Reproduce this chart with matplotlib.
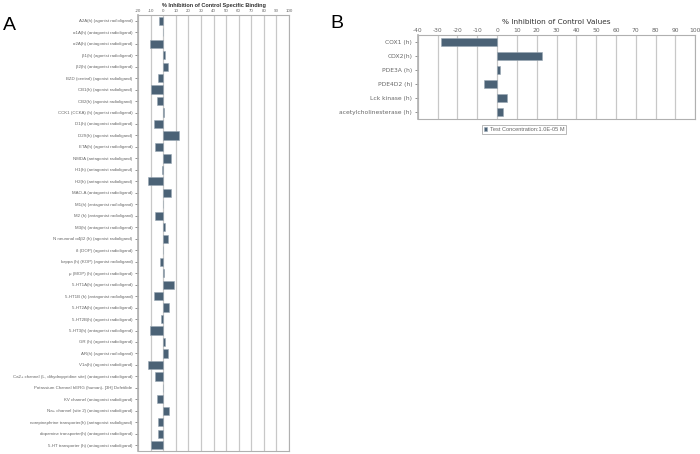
import matplotlib.pyplot as plt
import numpy as np

plt.rcParams['font.family'] = ['Liberation Sans', 'DejaVu Sans']
plt.rcParams['axes.unicode_minus'] = False

# panel A data
binding_labels = [
    'A2A(h) (agonist radioligand)',
    'α1A(h) (antagonist radioligand)',
    'α2A(h) (antagonist radioligand)',
    'β1(h) (agonist radioligand)',
    'β2(h) (antagonist radioligand)',
    'BZD (central) (agonist radioligand)',
    'CB1(h) (agonist radioligand)',
    'CB2(h) (agonist radioligand)',
    'CCK1 (CCKA) (h) (agonist radioligand)',
    'D1(h) (antagonist radioligand)',
    'D2S(h) (agonist radioligand)',
    'ETA(h) (agonist radioligand)',
    'NMDA (antagonist radioligand)',
    'H1(h) (antagonist radioligand)',
    'H2(h) (antagonist radioligand)',
    'MAO-A (antagonist radioligand)',
    'M1(h) (antagonist radioligand)',
    'M2 (h) (antagonist radioligand)',
    'M3(h) (antagonist radioligand)',
    'N neuronal α4β2 (h) (agonist radioligand)',
    'δ (DOP) (agonist radioligand)',
    'kappa (h) (KOP) (agonist radioligand)',
    'μ (MOP) (h) (agonist radioligand)',
    '5-HT1A(h) (agonist radioligand)',
    '5-HT1B (h) (antagonist radioligand)',
    '5-HT2A(h) (agonist radioligand)',
    '5-HT2B(h) (agonist radioligand)',
    '5-HT3(h) (antagonist radioligand)',
    'GR (h) (agonist radioligand)',
    'AR(h) (agonist radioligand)',
    'V1a(h) (agonist radioligand)',
    'Ca2+ channel (L, dihydropyridine site) (antagonist radioligand)',
    'Potassium Channel hERG (human)- [3H] Dofetilide',
    'KV channel (antagonist radioligand)',
    'Na+ channel (site 2) (antagonist radioligand)',
    'norepinephrine transporter(h) (antagonist radioligand)',
    'dopamine transporter(h) (antagonist radioligand)',
    '5-HT transporter (h) (antagonist radioligand)',
]
binding_values = [-3.0, 0, -10.2, 1.6, 4.0, -3.8, -9.4, -4.6, 0.5, -7.0,
                  12.6, -6.5, 6.5, -1.0, -12.0, 6.2, 0, -6.7, 1.1, 4.0,
                  0, -2.4, 0.5, 8.3, -7.3, 4.6, -1.6, -10.5, 1.3, 3.5,
                  -12.4, -6.2, 0, -5.1, 4.3, -4.0, -4.0, -9.4]

# panel B data
enzyme_labels = ['COX1 (h)', 'COX2(h)', 'PDE3A (h)', 'PDE4D2 (h)',
                 'Lck kinase (h)', 'acetylcholinesterase (h)']
enzyme_values = [-28.2, 22.5, 1.7, -6.4, 4.9, 3.2]

bar_color = '#4b6276'
txt = '#666666'
grid_c = '#c8c8c8'

fig = plt.figure(figsize=(7, 4.54), dpi=100)
W, H = 700, 454

def style(ax, xmin, xmax, fs):
    ax.set_xlim(xmin, xmax)
    ax.set_xticks(np.arange(xmin, xmax + 1, 10))
    ax.xaxis.tick_top()
    ax.tick_params(axis='x', labelsize=fs, colors=txt, length=0, pad=1.5)
    ax.tick_params(axis='y', labelsize=fs, colors=txt, length=2, width=0.5, pad=2)
    ax.grid(axis='x', color=grid_c, linewidth=0.9)
    ax.set_axisbelow(True)
    for s in ax.spines.values():
        s.set_color('#b0b0b0')
        s.set_linewidth(0.8)
    ax.spines['left'].set_linewidth(1.2)

# A
axA = fig.add_axes([138 / W, 1 - 451 / H, 151 / W, (451 - 15) / H])
yA = np.arange(len(binding_labels))
axA.barh(yA, binding_values, height=0.72, color=bar_color,
         edgecolor='#9aa8b4', linewidth=0.4)
axA.set_yticks(yA)
axA.set_yticklabels(binding_labels)
axA.set_ylim(len(binding_labels) - 0.5, -0.5)
style(axA, -20, 100, 3.2)
axA.set_title('% Inhibition of Control Specific Binding', fontsize=4.0,
              color='#333333', pad=6, fontweight='bold')

# B
axB = fig.add_axes([417.7 / W, 1 - 119 / H, (695.3 - 417.7) / W, (119 - 35) / H])
yB = np.arange(len(enzyme_labels))
axB.barh(yB, enzyme_values, height=0.55, color=bar_color,
         edgecolor='#9aa8b4', linewidth=0.4, label='Test Concentration:1.0E-05 M')
axB.set_yticks(yB)
axB.set_yticklabels(enzyme_labels, family='DejaVu Sans')
axB.set_ylim(len(enzyme_labels) - 0.5, -0.5)
style(axB, -40, 100, 4.3)
for t in axB.get_xticklabels():
    t.set_family('DejaVu Sans')
axB.set_title('% Inhibition of Control Values', fontsize=5.3,
              color='#333333', pad=8, family='DejaVu Sans')
leg = axB.legend(loc='upper center', bbox_to_anchor=(0.383, -0.04), fontsize=4.1,
                 frameon=True, fancybox=False, handlelength=0.6,
                 handleheight=0.8, borderpad=0.3, handletextpad=0.4)
leg.get_frame().set_edgecolor('#999999')
leg.get_frame().set_linewidth(0.6)
for t in leg.get_texts():
    t.set_color(txt)

fig.text(3 / W, 1 - 30 / H, 'A', fontsize=14, color='black')
fig.text(330 / W, 1 - 28 / H, 'B', fontsize=14, color='black')

fig.savefig('out.png', dpi=100)
